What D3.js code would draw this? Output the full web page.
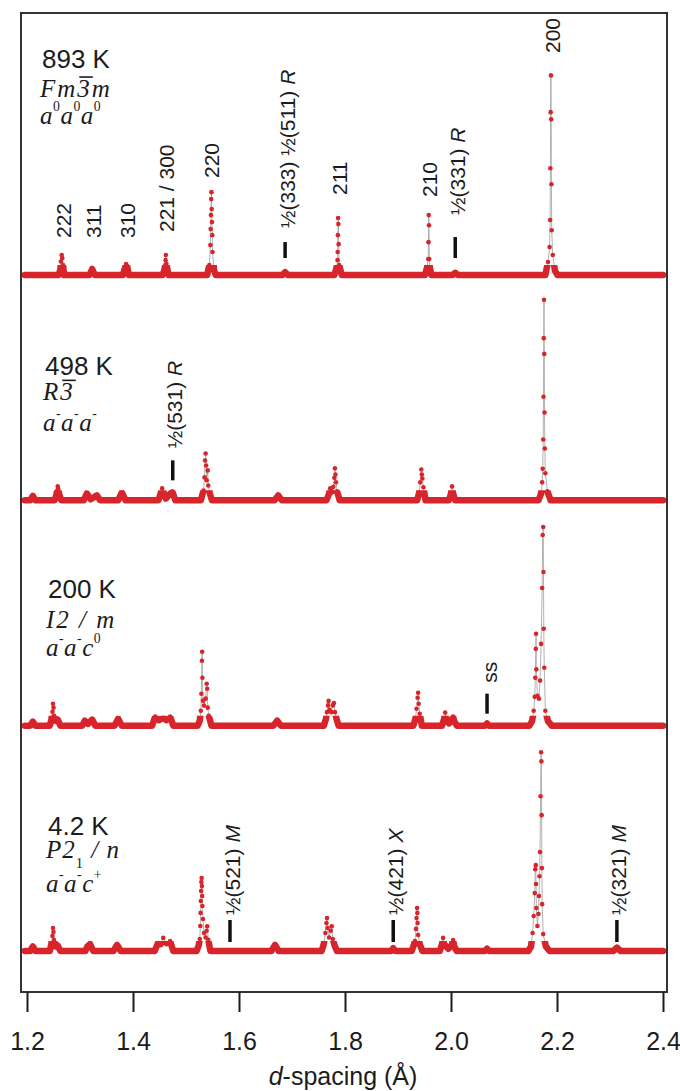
<!DOCTYPE html>
<html>
<head>
<meta charset="utf-8">
<script src="https://cdnjs.cloudflare.com/ajax/libs/d3/7.8.5/d3.min.js"></script>
<style>
body { margin: 0; background: #fff; }
svg { display: block; }
</style>
</head>
<body>
<div id="chart"></div>
<script>
// ---- data ----
// panels top to bottom
var temps = ["893 K", "498 K", "200 K", "4.2 K"];
var offsets = [300, 200, 100, 0];   // vertical stacking offset, intensity units
// text parts: [text, kind]   kind: "" plain, "bar" overlined, "sub", "sup"
var spaceGroups = [
  [["Fm", ""], ["3", "bar"], ["m", ""]],
  [["R", ""], ["3", "bar"]],
  [["I2 / m", ""]],
  [["P2", ""], ["1", "sub"], [" / n", ""]]
];
var tilts = [
  [["a", ""], ["0", "sup"], ["a", ""], ["0", "sup"], ["a", ""], ["0", "sup"]],
  [["a", ""], ["-", "sup"], ["a", ""], ["-", "sup"], ["a", ""], ["-", "sup"]],
  [["a", ""], ["-", "sup"], ["a", ""], ["-", "sup"], ["c", ""], ["0", "sup"]],
  [["a", ""], ["-", "sup"], ["a", ""], ["-", "sup"], ["c", ""], ["+", "sup"]]
];

// profiles: [d-spacing (A), intensity]
var p893 = [[1.196,0],[1.240,0],
  [1.260,0],[1.263,2.7],[1.264,6.0],[1.2655,8.9],[1.2665,7.5],[1.268,4.4],[1.270,0],
  [1.318,0],[1.323,2.7],[1.328,0],
  [1.381,0],[1.384,2.5],[1.387,4.9],[1.389,4.0],[1.392,0],
  [1.456,0],[1.459,2.2],[1.461,4.4],[1.4615,6.6],[1.462,8.9],[1.463,5.0],[1.467,0],
  [1.540,0],[1.544,4.4],[1.546,13.3],[1.5465,20.4],[1.547,26.6],[1.5475,33.7],[1.548,36.8],
  [1.5485,29.3],[1.549,23.5],[1.5495,17.7],[1.550,10.2],[1.553,2.0],[1.556,0],
  [1.682,0],[1.687,1.3],[1.692,0],
  [1.780,0],[1.784,3.1],[1.786,6.6],[1.7862,10.2],[1.7866,17.7],[1.787,25.3],[1.7875,22.6],
  [1.788,13.7],[1.789,4.4],[1.794,0],
  [1.951,0],[1.955,3.5],[1.957,7.1],[1.9575,14.6],[1.958,26.6],[1.9585,22.1],[1.959,7.1],[1.960,3.5],[1.963,0],
  [2.003,0],[2.008,1.0],[2.013,0],
  [2.178,0],[2.183,5.8],[2.186,12.4],[2.187,24.4],[2.1875,47.4],[2.188,72.3],[2.1885,88.6],
  [2.189,69.1],[2.1895,40.3],[2.190,19.9],[2.192,8.9],[2.196,2.0],[2.201,0],[2.400,0]];

var p498 = [[1.196,0],[1.206,0],[1.211,2.0],[1.216,0],
  [1.252,0],[1.255,2.2],[1.257,4.4],[1.258,6.2],[1.259,5.0],[1.261,2.5],[1.265,0],
  [1.307,0],[1.313,3.1],[1.320,0.5],[1.332,2.2],[1.338,0],
  [1.372,0],[1.379,3.5],[1.386,0],
  [1.448,0],[1.455,5.3],[1.462,0.8],[1.474,4.0],[1.480,0],
  [1.528,0],[1.533,4.4],[1.535,10.2],[1.536,17.7],[1.537,20.8],[1.538,15.5],[1.539,8.9],
  [1.541,13.3],[1.542,6.6],[1.545,3.0],[1.549,0],
  [1.667,0],[1.674,2.2],[1.681,0],
  [1.765,0],[1.770,3.0],[1.772,5.3],[1.775,4.0],[1.778,6.0],[1.780,10.0],[1.781,14.2],
  [1.782,11.5],[1.783,8.0],[1.785,4.0],[1.790,0],
  [1.936,0],[1.940,3.5],[1.942,8.0],[1.944,13.7],[1.945,11.5],[1.946,9.7],[1.948,5.8],[1.952,0],
  [1.996,0],[2.000,3.0],[2.002,6.2],[2.004,3.0],[2.008,0],
  [2.165,0],[2.170,3.0],[2.172,8.0],[2.173,14.0],[2.174,27.0],[2.1745,46.0],[2.175,72.0],
  [2.1755,89.0],[2.176,65.0],[2.1765,39.0],[2.177,23.0],[2.178,12.0],[2.182,4.0],[2.188,0],[2.400,0]];

var p200 = [[1.196,0],[1.206,0],[1.211,1.8],[1.216,0],
  [1.243,0],[1.246,2.7],[1.248,6.2],[1.249,9.7],[1.250,8.0],[1.251,4.4],[1.254,2.2],[1.258,2.7],[1.263,0],
  [1.304,0],[1.309,2.2],[1.315,0.8],[1.323,2.7],[1.329,0],
  [1.365,0],[1.372,3.1],[1.379,0],
  [1.436,0],[1.442,4.0],[1.449,2.4],[1.457,3.5],[1.463,2.4],[1.470,4.0],[1.476,0],
  [1.522,0],[1.526,2.2],[1.528,6.6],[1.529,14.2],[1.530,28.8],[1.5305,32.8],[1.531,21.3],
  [1.532,11.1],[1.534,8.9],[1.537,12.0],[1.539,18.6],[1.540,16.4],[1.541,8.0],[1.543,4.4],[1.548,0],
  [1.665,0],[1.672,2.2],[1.679,0],
  [1.760,0],[1.764,3.0],[1.766,6.0],[1.768,9.0],[1.769,11.0],[1.771,7.0],[1.774,6.0],
  [1.777,9.0],[1.779,10.0],[1.781,6.0],[1.784,3.0],[1.788,0],
  [1.929,0],[1.933,3.1],[1.935,7.5],[1.937,12.4],[1.938,14.6],[1.939,9.7],[1.941,5.3],[1.945,0],
  [1.983,0],[1.987,3.0],[1.989,5.8],[1.991,3.0],[1.996,1.0],[2.002,2.5],[2.004,4.0],[2.006,2.0],[2.011,0],
  [2.064,0],[2.068,1.0],[2.072,0],
  [2.148,0],[2.153,2.0],[2.156,6.6],[2.158,12.8],[2.159,21.3],[2.160,34.1],[2.1605,40.8],
  [2.161,25.0],[2.163,13.3],[2.166,12.0],[2.168,20.0],[2.170,36.3],[2.172,61.1],[2.173,84.6],
  [2.174,88.2],[2.1745,68.2],[2.175,43.0],[2.176,25.7],[2.178,6.6],[2.183,2.0],[2.190,0],[2.400,0]];

var p4 = [[1.196,0],[1.206,0],[1.211,2.0],[1.216,0],
  [1.243,0],[1.246,3.1],[1.248,6.7],[1.249,10.2],[1.250,8.4],[1.251,4.9],[1.254,2.0],[1.258,2.4],[1.263,0],
  [1.310,0],[1.314,2.0],[1.319,3.1],[1.325,0],
  [1.363,0],[1.370,2.7],[1.377,0],
  [1.441,0],[1.447,3.5],[1.452,3.0],[1.457,5.8],[1.463,3.5],[1.470,4.4],[1.476,0],
  [1.520,0],[1.524,2.5],[1.526,5.3],[1.527,11.1],[1.5275,16.9],[1.528,22.2],[1.5285,26.6],
  [1.529,30.6],[1.5295,32.4],[1.530,28.8],[1.5305,24.4],[1.531,20.0],[1.532,14.2],[1.534,8.0],
  [1.537,6.0],[1.539,9.0],[1.540,11.0],[1.542,5.0],[1.546,0],
  [1.661,0],[1.668,2.7],[1.675,0],
  [1.756,0],[1.760,3.1],[1.763,8.0],[1.765,12.4],[1.766,14.6],[1.767,10.2],[1.770,6.0],
  [1.773,9.0],[1.775,11.0],[1.777,5.3],[1.781,2.0],[1.785,0],
  [1.887,0],[1.891,1.2],[1.895,0],
  [1.926,0],[1.930,2.7],[1.932,4.4],[1.934,9.8],[1.935,14.6],[1.936,19.1],[1.9365,16.9],
  [1.937,12.4],[1.938,7.1],[1.941,3.0],[1.946,0],
  [1.979,0],[1.983,3.0],[1.985,5.8],[1.987,3.0],[1.995,1.0],[2.001,2.5],[2.004,4.9],[2.006,2.0],[2.011,0],
  [2.064,0],[2.068,1.0],[2.072,0],
  [2.146,0],[2.151,2.0],[2.154,8.0],[2.156,15.5],[2.158,25.7],[2.159,36.3],[2.160,38.1],
  [2.1605,29.7],[2.161,19.1],[2.163,11.1],[2.165,16.4],[2.166,24.4],[2.167,33.2],[2.168,43.9],
  [2.169,68.7],[2.170,88.2],[2.1705,84.2],[2.171,60.3],[2.1715,36.8],[2.172,20.8],[2.174,7.5],
  [2.179,2.0],[2.186,0],
  [2.306,0],[2.313,1.5],[2.320,0],[2.400,0]];

var series = [p893, p498, p200, p4];

// cubic reflections labelled on the 893 K pattern
var hklNames = ["222", "311", "310", "221 / 300", "220", "211", "210", "200"];
var hklD = [1.266, 1.323, 1.387, 1.462, 1.547, 1.787, 1.958, 2.189];

// superlattice reflections (tick + label)
var markPanel = [0, 0, 1, 2, 3, 3, 3];
var markD = [1.687, 2.008, 1.475, 2.068, 1.583, 1.891, 2.313];
var markHkl = ["\u00bd(333) \u00bd(511)", "\u00bd(331)", "\u00bd(531)", "ss", "\u00bd(521)", "\u00bd(421)", "\u00bd(321)"];
var markPoint = ["R", "R", "R", "", "M", "X", "M"];

var xTicks = [1.2, 1.4, 1.6, 1.8, 2.0, 2.2, 2.4];

// ---- layout (px) ----
var W = 680, H = 1091;
var SANS = "'Liberation Sans', Arial, Helvetica, sans-serif";
var SERIF = "'Liberation Serif', 'Times New Roman', serif";
var RED = "#d7252b", INK = "#1c1c1c";
var titleX = [42, 45, 48, 48], titleRise = [207, 125, 128, 116];
var sgRise = [178, 100, 98, 93], tiltRise = [151, 69, 70, 59];
var hklRise = [37, 37, 37, 43, 97, 80, 78, 222];
var markBarLo = [17, 17, 20, 12, 9, 9, 9], markBarHi = [33, 38, 40, 32, 31, 31, 31];
var markLabelRise = [47, 60, 52, 43, 36, 36, 36];

var svg = d3.select("#chart").append("svg").attr("width", W).attr("height", H);

var x = d3.scaleLinear().domain([1.2, 2.4]).range([27, 663]);
var y = d3.scaleLinear().domain([-18.2, 416.3]).range([992, 13]);

var line = d3.line().x(function(d) { return x(d[0]); }).y(function(d) { return y(d[1]); });
var defs = svg.append("defs");

series.forEach(function(pts, i) {
  var off = offsets[i];
  var shifted = pts.map(function(p) { return [p[0], p[1] + off]; });
  var base = y(off);
  // thick red band only near the baseline, like the dense data points
  defs.append("clipPath").attr("id", "band" + i).append("rect")
    .attr("x", 0).attr("y", base - 10).attr("width", W).attr("height", 15);
  var g = svg.append("g");
  g.append("path").datum(shifted).attr("d", line)
    .attr("fill", "none").attr("stroke", "#a0a0a0").attr("stroke-width", 0.8);
  g.append("path").datum(shifted).attr("d", line)
    .attr("fill", "none").attr("stroke", RED).attr("stroke-width", 6.5)
    .attr("stroke-linejoin", "round").attr("stroke-linecap", "round")
    .attr("clip-path", "url(#band" + i + ")");
  g.selectAll("circle").data(shifted).enter().append("circle")
    .attr("cx", function(p) { return x(p[0]); })
    .attr("cy", function(p) { return y(p[1]); })
    .attr("r", 2.3).attr("fill", RED);
});

// frame
svg.append("rect").attr("x", 21).attr("y", 13).attr("width", 646).attr("height", 979)
  .attr("fill", "none").attr("stroke", "#333").attr("stroke-width", 2);

// x axis
var ax = svg.append("g").attr("transform", "translate(0,992)")
  .call(d3.axisBottom(x).tickValues(xTicks).tickFormat(d3.format(".1f")).tickSize(20).tickPadding(20));
ax.select(".domain").remove();
ax.attr("font-family", SANS).attr("font-size", 25);
ax.selectAll(".tick line").attr("stroke", INK).attr("stroke-width", 2);
ax.selectAll(".tick text").attr("fill", INK);

var xt = svg.append("text").attr("x", 343).attr("y", 1085).attr("text-anchor", "middle")
  .attr("font-family", SANS).attr("font-size", 25).attr("fill", INK);
xt.append("tspan").attr("font-style", "italic").text("d");
xt.append("tspan").text("-spacing (\u00c5)");

// rich text helper: parts with bar / sub / sup
function richText(parts, px, py, size, spacing) {
  var t = svg.append("text").attr("x", px).attr("y", py)
    .attr("font-family", SERIF).attr("font-style", "italic").attr("font-size", size)
    .attr("letter-spacing", spacing).attr("fill", INK);
  var shift = 0, bars = [], idx = 0;
  parts.forEach(function(p) {
    var ts = t.append("tspan").text(p[0]);
    var dy = 0;
    if (p[1] === "sub") { dy = 10 - shift; ts.attr("font-size", size * 0.58).attr("font-style", "normal"); }
    else if (p[1] === "sup") { dy = -13 - shift; ts.attr("font-size", size * 0.55).attr("font-style", "normal"); }
    else { dy = -shift; }
    if (dy) ts.attr("dy", dy);
    shift += dy;
    if (p[1] === "bar") bars.push([idx, idx + p[0].length - 1]);
    idx += p[0].length;
  });
  bars.forEach(function(b) {
    var n = t.node();
    var x0 = n.getStartPositionOfChar(b[0]).x, x1 = n.getEndPositionOfChar(b[1]).x;
    svg.append("line").attr("x1", x0 + 2).attr("x2", x1 + 1)
      .attr("y1", py - 20).attr("y2", py - 20)
      .attr("stroke", INK).attr("stroke-width", 1.6);
  });
  return t;
}

// panel annotations
temps.forEach(function(t, i) {
  var base = y(offsets[i]);
  svg.append("text").attr("x", titleX[i]).attr("y", base - titleRise[i])
    .attr("font-family", SANS).attr("font-size", 26).attr("fill", INK).text(t);
  richText(spaceGroups[i], titleX[i] - 2, base - sgRise[i], 25, i === 3 ? 1 : 2);
  richText(tilts[i], titleX[i] - 2, base - tiltRise[i], 25, 0.5);
});

// hkl labels, rotated
function vLabel(cx, bottom) {
  return svg.append("text")
    .attr("transform", "translate(" + cx + "," + bottom + ") rotate(-90)")
    .attr("dy", "0.36em").attr("font-family", SANS).attr("font-size", 21).attr("fill", INK);
}
var base0 = y(offsets[0]);
hklNames.forEach(function(h, i) {
  vLabel(x(hklD[i]) + 1, base0 - hklRise[i]).text(h);
});

// superlattice markers
markD.forEach(function(d, i) {
  var base = y(offsets[markPanel[i]]);
  var cx = x(d);
  svg.append("line").attr("x1", cx).attr("x2", cx)
    .attr("y1", base - markBarLo[i]).attr("y2", base - markBarHi[i])
    .attr("stroke", "#111").attr("stroke-width", 3.5);
  var t = vLabel(cx + 2, base - markLabelRise[i]);
  t.append("tspan").text(markHkl[i]);
  if (markPoint[i]) t.append("tspan").attr("font-style", "italic").text(" " + markPoint[i]);
});
</script>
</body>
</html>
